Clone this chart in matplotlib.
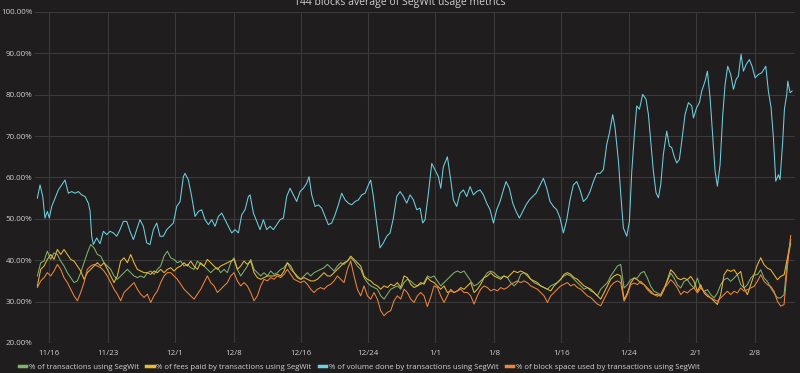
import matplotlib
matplotlib.use("Agg")
import matplotlib.pyplot as plt
import matplotlib.dates as mdates
import pandas as pd
import numpy as np

# ---------------- data ----------------
title = "144 blocks average of SegWit usage metrics"
series_names = [
    "% of transactions using SegWit",
    "% of fees paid by transactions using SegWit",
    "% of volume done by transactions using SegWit",
    "% of block space used by transactions using SegWit",
]
origin = "2017-11-16"
tick_dates = ["2017-11-16", "2017-11-23", "2017-12-01", "2017-12-08", "2017-12-16",
              "2017-12-24", "2018-01-01", "2018-01-08", "2018-01-16", "2018-01-24",
              "2018-02-01", "2018-02-08"]
y_ticks = [20, 30, 40, 50, 60, 70, 80, 90, 100]

# lower three series share one regular sampling
lower_start = "2017-11-14 14:40"
lower_end = "2018-02-12 07:00"

tx_pct = [
    36.2, 39.4, 39.8, 42.2, 40.2, 41.8, 41.4, 39.8, 38.6, 37, 35.8, 34.6, 35, 37, 39.4, 41.8,
    43.8, 43, 41.4, 41, 39.4, 38.6, 37.8, 36.2, 35.4, 36.2, 37, 37.8, 37, 36.2, 35.8, 36.2,
    35.8, 37, 37.4, 36.6, 37.8, 38.6, 41, 42.2, 40.6, 40.2, 39.4, 39.8, 38.6, 39, 38.2, 37.8,
    39.8, 39, 38.6, 37.8, 37, 37.8, 38.2, 37, 37.8, 37,
    39.4, 40.6, 37.8, 36.2, 37.4, 38.6, 40.2, 37.8, 37, 36.2, 37, 36.2, 37.4, 36.6, 37, 37.8,
    38.2, 39.4, 37.8, 37, 36.2, 35.4, 36.2, 37, 36.2, 37, 37.4, 37.8, 38.2, 39, 38.2, 37.4,
    38.6, 39.4, 39, 39.8, 40.6, 39.8, 38.6, 37.8, 35.8, 34.6, 33.8, 33.4, 33, 31.4, 30.6, 31.8,
    33, 33.4, 33.8, 33, 34.6, 35.4, 35, 34.2, 33.8, 34.2, 34.6,
    36.2, 35.8, 36.2, 35, 33.8, 34.6, 35.4, 36.2, 37, 37.4, 37, 37.4, 36.2, 35, 33.8, 34.2,
    35, 35.8, 37, 37.4, 37, 36.2, 35.8, 36.2, 35.8, 34.6, 33.8, 34.6, 36.6, 37, 36.2, 35.4,
    34.6, 34.2, 33.8, 33.4, 33, 33.8, 34.2, 34.6, 35.4, 36.2, 36.6, 36.2, 35.4, 34.6, 33.8, 33,
    33.4, 32.6, 32.2, 31.4, 33, 33.8, 34.6, 36.2, 37.4, 38.6, 39,
    33.3, 34.1, 35.3, 35.7, 35.7, 36.9, 37.3, 35.7, 33.7, 32.5, 32.1, 31.7, 33.3, 34.9, 36.9, 35.7,
    34.1, 33.3, 34.9, 35.3, 34.1, 33.3, 35.7, 33.3, 32.5, 32.9, 31.7, 30.9, 32.1, 34.1, 35.3, 35.7,
    34.9, 35.7, 36.5, 34.1, 33.3, 34.1, 35.7, 36.5, 36.5, 37.7, 35.7, 34.9, 33.3, 32.1, 30.9, 30.9,
    31.7, 40.0, 44.0,
]

fees_pct = [
    33.8, 37.8, 38.6, 40.2, 41.4, 40.2, 42.6, 41.4, 42.6, 41.4, 40.2, 39.8, 38.6, 37.4, 35.4, 37,
    37.8, 38.6, 39.4, 38.6, 39.4, 37.8, 36.2, 34.6, 36.2, 39.8, 40.6, 39.4, 41.4, 39.4, 37.8, 37.4,
    37, 37, 36.6, 37.4, 37, 37.8, 37, 37.8, 38.2, 37.4, 38.2, 38.6, 39.4, 38.6, 39.8, 38.6,
    37.8, 39.4, 38.6, 40.2, 39.4, 38.6, 37.8, 38.6, 39, 39.4,
    39.8, 40.2, 37.8, 38.6, 39.8, 39, 39.8, 37, 35.8, 35.4, 35.8, 36.2, 36.2, 36.2, 36.6, 36.2,
    37.4, 39.4, 38.6, 37, 35.8, 35.4, 35.8, 35.4, 35, 35, 35.4, 36.2, 37, 36.2, 36.2, 37,
    37.8, 38.6, 39.4, 39.8, 41, 40.2, 39.4, 38.6, 36.2, 35.4, 35, 34.2, 33.8, 33, 33.8, 33.4,
    34.2, 33.8, 34.6, 33.4, 36.2, 35.8, 34.2, 33.4, 33.8, 34.6, 34.2,
    35.8, 35, 34.6, 33.8, 33, 33.8, 32.2, 32.6, 32.2, 32.6, 33.4, 33, 33.8, 34.6, 32.2, 33,
    34.2, 35.8, 36.2, 37, 36.2, 35.8, 35.4, 36.2, 35.8, 36.6, 37.4, 37, 37.4, 37, 36.6, 35.4,
    35, 34.6, 33.8, 33.4, 33, 32.6, 33.8, 34.6, 35.4, 36.6, 37, 36.6, 35.8, 35.4, 34.6, 33.8,
    33.4, 33, 32.2, 31.4, 30.6, 32.2, 33.8, 35.4, 36.2, 36.6, 36.2,
    30.5, 32.1, 34.5, 35.7, 35.3, 34.5, 34.1, 33.3, 32.5, 31.7, 31.7, 31.3, 32.9, 35.3, 37.7, 36.9,
    35.7, 35.3, 35.7, 35.3, 36.1, 34.9, 32.5, 34.1, 32.1, 31.3, 30.9, 30.1, 29.3, 31.7, 36.5, 37.7,
    37.3, 37.7, 36.5, 37.3, 33.3, 31.7, 34.1, 36.5, 38.9, 40.6, 38.9, 38.1, 37.7, 36.5, 35.3, 36.1,
    36.5, 40.5, 45.0,
]

space_pct = [
    33.4, 35, 35.8, 37, 36.2, 37.4, 39, 37.8, 35.8, 34.6, 33, 31.4, 30.2, 32.2, 34.6, 37.8,
    38.6, 39, 38.6, 38.2, 37.4, 36.2, 34.6, 33, 31.8, 30.2, 32.2, 33, 33.8, 34.6, 33, 31.8,
    31, 31.8, 29.8, 31.4, 32.6, 34.6, 36.2, 37, 37, 36.2, 35.4, 34.2, 33, 32.2, 31.4, 30.6,
    31.8, 33, 34.6, 36.2, 34.6, 33.8, 32.2, 33, 33.8, 34.6,
    36.2, 37, 35, 33.8, 34.6, 33.8, 32.2, 30.2, 31.4, 33.8, 35.4, 35, 35.8, 35.4, 36.2, 35.8,
    36.6, 37.8, 36.6, 35.4, 35, 34.6, 35, 34.2, 33, 32.2, 33, 33.4, 33, 33.8, 34.2, 35,
    36.2, 35.4, 34.6, 37.8, 39.8, 36.2, 33, 31.4, 33.8, 31.4, 30.6, 32.2, 30.6, 27.8, 26.6, 27.4,
    27.8, 30.2, 31.4, 30.6, 33, 32.2, 30.6, 29.8, 31.4, 32.2, 31.4,
    28.8, 31.1, 33.8, 33.4, 31.4, 29.8, 31.4, 33, 32.2, 32.6, 33, 32.2, 32.2, 31.4, 29.4, 31.4,
    33, 33.8, 33.4, 32.6, 33, 32.6, 33.4, 33, 33.4, 34.2, 34.6, 35, 34.6, 35, 34.6, 33.8,
    33.4, 33, 32.2, 31.4, 29.8, 31.4, 32.2, 33, 33.8, 34.2, 34.6, 33.8, 34.2, 33.4, 33, 32.2,
    31.4, 31, 30.2, 29.4, 29, 30.6, 32.2, 33.8, 34.6, 35, 34.6,
    30.1, 31.7, 34.1, 34.5, 34.1, 34.9, 34.1, 32.9, 32.1, 31.7, 31.3, 31.7, 33.3, 34.1, 35.3, 34.5,
    33.3, 31.7, 32.5, 32.1, 32.9, 33.3, 32.1, 33.3, 32.5, 31.7, 30.9, 30.5, 30.1, 30.9, 31.7, 32.5,
    31.7, 32.5, 32.1, 33.3, 32.5, 32.9, 33.3, 33.7, 34.9, 36.5, 34.9, 34.1, 33.7, 32.5, 30.1, 28.9,
    29.3, 38.5, 46.0,
]

# volume series: sample times in days after 2017-11-16
volume_days = [
    -1.39, -1.07, -0.75, -0.48, -0.20, 0.04, 0.32, 0.71, 1.11, 1.51, 1.90, 2.30, 2.70, 3.10, 3.49, 3.89,
    4.29, 4.68, 4.88, 5.08, 5.28, 5.67, 6.07, 6.47, 6.87, 7.26, 7.66, 8.06, 8.45, 8.85, 9.25, 9.64,
    10.04, 10.44, 10.83, 11.23, 11.63, 12.02, 12.42, 12.82, 13.21, 13.61, 14.01, 14.40, 14.80, 15.20,
    15.60, 15.99, 16.19, 16.59, 16.98, 17.38, 17.78, 18.17, 18.57, 18.97, 19.37, 19.76, 20.16, 20.56,
    20.95,
    21.35, 21.75, 22.14, 22.54, 22.94, 23.33, 23.73, 23.93, 24.33, 24.72, 25.12, 25.52, 25.91, 26.31,
    26.71, 27.10, 27.50, 27.90, 28.29, 28.69, 29.09, 29.48, 29.88, 30.28, 30.67, 30.95, 31.27, 31.67,
    32.06, 32.46, 32.86, 33.25, 33.65, 34.05, 34.44, 34.84, 35.24, 35.63, 36.03, 36.43, 36.83, 37.22,
    37.62, 38.02, 38.29, 38.61, 39.00, 39.40, 39.80, 40.20, 40.60, 40.99, 41.39, 41.79, 42.18, 42.58,
    42.98, 43.37, 43.77, 44.17,
    44.48, 44.76, 45.16, 45.56, 45.95, 46.35, 46.63, 46.94, 47.42, 47.82, 48.13, 48.53, 48.93, 49.33,
    49.72, 50.12, 50.52, 50.91, 51.31, 51.71, 52.10, 52.50, 52.90, 53.29, 53.69, 54.09, 54.40, 54.80,
    55.20, 55.60, 55.99, 56.39, 56.79, 57.18, 57.58, 57.98, 58.37, 58.85, 59.25, 59.64, 60.04, 60.44,
    60.83, 61.23, 61.63, 62.02, 62.42, 62.82, 63.21, 63.61, 64.01, 64.40, 64.80, 65.20,
    65.60, 65.99, 66.39, 66.71, 67.10, 67.38, 67.78, 68.06, 68.37, 68.77, 69.09, 69.37, 69.68, 69.96,
    70.28, 70.67, 71.07, 71.35, 71.63, 71.94, 72.26, 72.54, 72.82, 73.13, 73.53, 73.85, 74.13, 74.40,
    74.72, 75.04, 75.32, 75.71, 76.11, 76.51, 76.71, 77.10, 77.42, 77.70, 78.10, 78.37, 78.69, 79.01,
    79.29, 79.56, 79.88, 80.20, 80.48, 80.79, 81.15, 81.47, 81.79, 82.06, 82.38, 82.66, 82.98, 83.37,
    83.69, 84.05, 84.44, 84.84, 85.32, 85.63, 85.95, 86.23, 86.51, 86.83, 87.02, 87.34, 87.54, 87.82,
    87.94, 88.21, 88.45,
]
volume_pct = [
    55, 58.2, 55.4, 50.2, 51.8, 50.2, 53, 55, 57, 58.2, 59.4, 56.2, 56.6, 56.2, 56.6, 55.8,
    55.4, 53.8, 52, 45.8, 43.8, 45.4, 44, 47, 46.2, 47, 46.6, 45.8, 47.4, 49.4, 49.4, 47,
    45, 47.4, 49.8, 48.2, 44.2, 43.8, 47.4, 49, 45.8, 45.8, 47.4, 48.2, 49, 53,
    54.2, 60.2, 61, 59.4, 55.4, 50.6, 51.8, 52.2, 49.8, 48.6, 49.8, 48.2, 50.6, 51.4,
    49.8,
    48.2, 46.6, 47.4, 46.6, 51, 52.2, 55.4, 55.8, 51.4, 49.4, 47.4, 49.8, 47.4, 48.2,
    47.4, 48.6, 49.8, 50.2, 55.4, 57.4, 55.8, 54.2, 56.6, 57.4, 58.6, 60.2, 55.8, 53,
    53.4, 52.6, 50.6, 48.6, 49, 51, 53.4, 56.2, 54.6, 53.8, 53.4, 54.2, 54.6, 55.8,
    56.2, 58.2, 59.4, 55.4, 49, 43, 44.2, 45.8, 46.6, 50.2, 55.4, 56.6, 55.4, 53.8,
    55.8, 54.6, 52.2, 52.6,
    49, 49.8, 56.2, 63.4, 61.8, 60.2, 57.4, 62.6, 65, 59.4, 54.6, 53, 56.2, 57,
    55.4, 57.8, 55.8, 56.6, 57, 55.8, 53.8, 52.2, 49, 52.2, 54.2, 57, 59, 57.4,
    53.8, 51.8, 50.2, 51.8, 53.4, 54.6, 55.4, 56.2, 57.8, 59.8, 57.4, 54.2, 53, 52.2,
    50.2, 46.6, 49.8, 54.6, 58.2, 59, 57, 54.2, 55, 56.6, 59, 61,
    61, 61.9, 68, 70.8, 75.2, 72, 64, 55.9, 47.8, 45.8, 49.4, 61.5, 70.4, 77.3,
    76.5, 80.1, 78.9, 75.2, 68.8, 61.5, 56.3, 55.1, 58.3, 65.6, 71.2, 67.6, 67.2, 65.2,
    63.5, 64.4, 68.8, 75.2, 78.1, 77.3, 74.4, 76.9, 78.1, 80.9, 83.3, 85.7, 79.3, 69.6,
    61.5, 57.9, 63.1, 75.2, 82.5, 86.9, 84.9, 81.3, 83.7, 84.5, 89.8, 85.7, 87.3, 88.5,
    86.9, 84.1, 84.9, 85.3, 86.9, 80.9, 76.9, 69.6, 59.1, 60.7, 59.5, 68.8, 76.5, 80.1,
    83.3, 80.5, 80.9,
]

colors = ["#7EB26D", "#EAB839", "#6ED0E0", "#EF843C"]

# ---------------- figure ----------------
BG = "#1f1d1e"
GRID = "#3b3a3a"
TXT = "#cfd0d1"
plt.rcParams["font.family"] = ["Open Sans", "DejaVu Sans"]

fig = plt.figure(figsize=(8.0, 3.73), dpi=100, facecolor=BG)
ax = fig.add_axes([35 / 800, 1 - 343 / 373, 760 / 800, 331 / 373], facecolor=BG)

lower_t = pd.date_range(lower_start, lower_end, periods=len(tx_pct))
vol_t = pd.Timestamp(origin) + pd.to_timedelta(volume_days, unit="D")

ax.plot(lower_t, tx_pct, color=colors[0], lw=0.75, label=series_names[0])
ax.plot(lower_t, fees_pct, color=colors[1], lw=0.75, label=series_names[1])
ax.plot(vol_t, volume_pct, color=colors[2], lw=0.75, label=series_names[2])
ax.plot(lower_t, space_pct, color=colors[3], lw=0.75, label=series_names[3])

ax.set_ylim(20, 100)
ax.set_xlim(pd.Timestamp(origin) - pd.Timedelta(days=1.67),
            pd.Timestamp(origin) + pd.Timedelta(days=88.8))
ax.set_yticks(y_ticks)
ax.set_yticklabels([f"{v:.2f}%" for v in y_ticks])
ax.set_xticks(pd.to_datetime(tick_dates))
ax.xaxis.set_major_formatter(mdates.DateFormatter("%-m/%-d"))

ax.grid(True, color=GRID, lw=0.8)
ax.set_axisbelow(True)
for s in ax.spines.values():
    s.set_visible(False)
ax.tick_params(axis="both", length=0, colors=TXT, labelsize=5.8)
ax.tick_params(axis="y", pad=2)
ax.tick_params(axis="x", pad=5)

fig.text(0.5, 1 - 5 / 373, title, ha="center", va="baseline", color=TXT, fontsize=7.5)

leg = fig.legend(loc="center left", bbox_to_anchor=(19 / 800, 1 - 367 / 373), ncol=4,
                 frameon=False, fontsize=5.6, handlelength=0.95, handletextpad=0.35,
                 columnspacing=0.9, borderaxespad=0, borderpad=0)
for h in leg.get_lines():
    h.set_linewidth(2.5)
for t in leg.get_texts():
    t.set_color(TXT)

fig.savefig("out.png", dpi=100, facecolor=BG)
